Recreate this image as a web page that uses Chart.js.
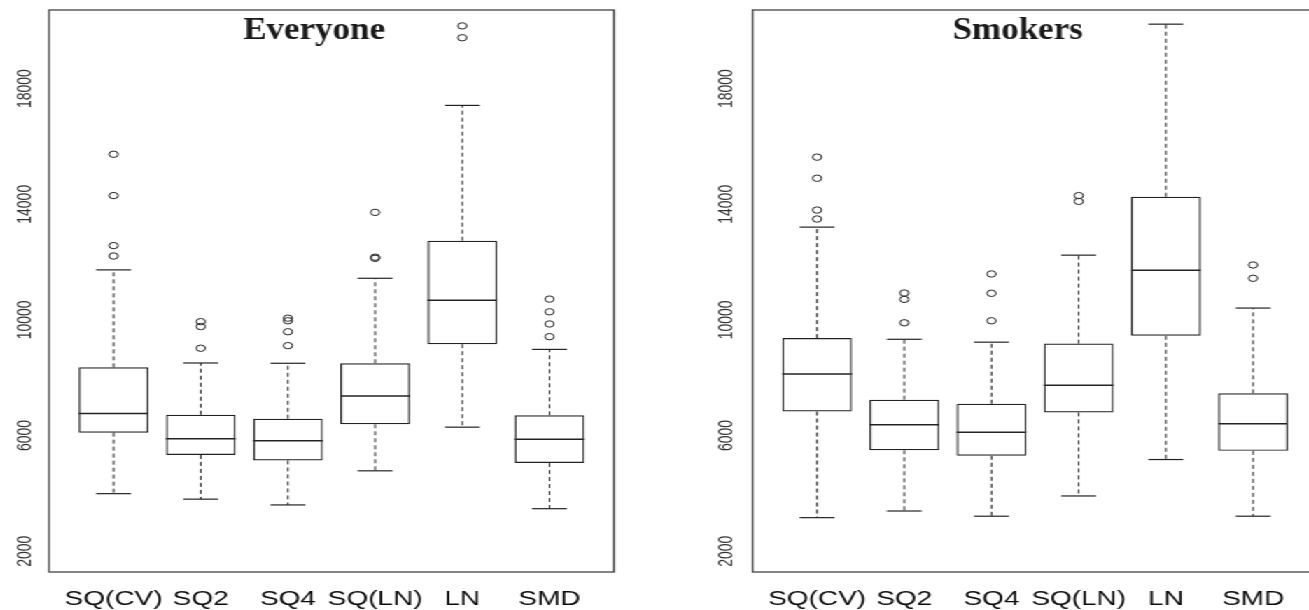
<!DOCTYPE html>
<html>
<head>
<meta charset="utf-8">
<script src="https://cdn.jsdelivr.net/npm/chart.js@4.4.0/dist/chart.umd.min.js"></script>
<style>
  html, body { margin: 0; padding: 0; background: #fff; overflow: hidden; width: 1309px; height: 610px; }
  /* the source figure is stretched sideways, so draw narrow and widen with CSS */
  #stretch { position: absolute; left: 0; top: 0; width: 960px; height: 610px; transform: scaleX(1.4); transform-origin: 0 0; }
  .panel { position: absolute; top: 0; height: 610px; }
</style>
</head>
<body>
<div id="stretch">
  <div class="panel" style="left:0;width:468px"><canvas id="everyone" width="468" height="610"></canvas></div>
  <div class="panel" style="left:468px;width:480px"><canvas id="smokers" width="480" height="610"></canvas></div>
</div>
<script>
const categories = ['SQ(CV)', 'SQ2', 'SQ4', 'SQ(LN)', 'LN', 'SMD'];
const yTicks = [2000, 6000, 10000, 14000, 18000];

// Everyone
const everyoneLow  = [3990, 3800, 3600, 4780, 6290, 3470];
const everyoneQ1   = [6100, 5330, 5140, 6390, 9160, 5050];
const everyoneMed  = [6760, 5890, 5820, 7370, 10680, 5870];
const everyoneQ3   = [8360, 6720, 6580, 8500, 12740, 6700];
const everyoneHigh = [11730, 8510, 8500, 11440, 17420, 8980];
const everyoneOut  = [
  [15730, 14300, 12570, 12210],
  [9940, 9770, 9020],
  [10060, 9970, 9590, 9110],
  [13720, 12170, 12130],
  [20170, 19760],
  [10720, 10280, 9860, 9420]
];

// Smokers
const smokersLow  = [3160, 3390, 3210, 3910, 5170, 3210];
const smokersQ1   = [6830, 5490, 5300, 6800, 9450, 5470];
const smokersMed  = [8130, 6370, 6110, 7740, 11720, 6410];
const smokersQ3   = [9370, 7240, 7100, 9180, 14260, 7460];
const smokersHigh = [13210, 9330, 9230, 12240, 20230, 10410];
const smokersOut  = [
  [15630, 14900, 13800, 13490],
  [10930, 10710, 9900],
  [11590, 10920, 9970],
  [14300, 14100],
  [],
  [11900, 11440]
];

const INK = '#222';

function seg(ctx, x1, y1, x2, y2) {
  ctx.beginPath();
  ctx.moveTo(x1, y1);
  ctx.lineTo(x2, y2);
  ctx.stroke();
}

// whiskers, caps, medians, frame, title and y labels, all placed through the chart scales
function boxParts(st) {
  return {
    id: 'boxParts',
    beforeDatasetsDraw(chart) {
      const { ctx, scales: { x, y } } = chart;
      ctx.save();
      ctx.strokeStyle = INK;
      ctx.lineWidth = 1;
      ctx.setLineDash([4, 3]);
      st.low.forEach((lo, i) => {
        const px = x.getPixelForValue(i + 1);
        seg(ctx, px, y.getPixelForValue(st.q1[i]), px, y.getPixelForValue(lo));
        seg(ctx, px, y.getPixelForValue(st.q3[i]), px, y.getPixelForValue(st.high[i]));
      });
      ctx.restore();
    },
    afterDatasetsDraw(chart) {
      const { ctx, chartArea: a, scales: { x, y } } = chart;
      ctx.save();
      ctx.strokeStyle = INK;
      ctx.lineWidth = 1.2;
      st.low.forEach((lo, i) => {
        const c = i + 1;
        seg(ctx, x.getPixelForValue(c - 0.2), y.getPixelForValue(lo), x.getPixelForValue(c + 0.2), y.getPixelForValue(lo));
        seg(ctx, x.getPixelForValue(c - 0.2), y.getPixelForValue(st.high[i]), x.getPixelForValue(c + 0.2), y.getPixelForValue(st.high[i]));
      });
      ctx.lineWidth = 1.5;
      st.med.forEach((m, i) => {
        seg(ctx, x.getPixelForValue(i + 0.6), y.getPixelForValue(m), x.getPixelForValue(i + 1.4), y.getPixelForValue(m));
      });

      // plot frame
      ctx.strokeStyle = '#444';
      ctx.lineWidth = 1.3;
      ctx.strokeRect(a.left, a.top, a.right - a.left, a.bottom - a.top);

      // title inside the frame, a bit taller than the plain font
      ctx.fillStyle = '#1a1a1a';
      ctx.font = 'bold 25px "Liberation Serif", "Times New Roman", serif';
      ctx.textAlign = 'center';
      ctx.textBaseline = 'middle';
      ctx.save();
      ctx.translate(x.getPixelForValue(3.3), y.getPixelForValue(20000));
      ctx.scale(1, 1.3);
      ctx.fillText(st.title, 0, 0);
      ctx.restore();

      // rotated y tick labels
      ctx.font = '14px "Liberation Sans", Arial, sans-serif';
      ctx.fillStyle = '#333';
      yTicks.forEach(v => {
        ctx.save();
        ctx.translate(a.left - st.labelGap, y.getPixelForValue(v));
        ctx.rotate(-Math.PI / 2);
        ctx.fillText(String(v), 0, 0);
        ctx.restore();
      });
      ctx.restore();
    }
  };
}

function makeChart(id, st, padLeft, padRight) {
  const boxes = categories.map((c, i) => ({ x: i + 1, y: [st.q1[i], st.q3[i]] }));
  const outliers = [];
  st.out.forEach((list, i) => list.forEach(v => outliers.push({ x: i + 1, y: v })));

  return new Chart(document.getElementById(id), {
    type: 'bar',
    data: {
      datasets: [{
        type: 'bar',
        data: boxes,
        backgroundColor: 'rgba(255,255,255,0)',
        borderColor: INK,
        borderWidth: 1.2,
        borderSkipped: false,
        barPercentage: 0.8,
        categoryPercentage: 1
      }, {
        type: 'scatter',
        data: outliers,
        pointStyle: 'circle',
        pointRadius: 3.2,
        pointBorderWidth: 1,
        pointBackgroundColor: 'rgba(0,0,0,0)',
        pointBorderColor: INK
      }]
    },
    options: {
      responsive: false,
      animation: false,
      devicePixelRatio: 1,
      layout: { padding: { left: padLeft, right: padRight, top: 10, bottom: 0 } },
      plugins: { legend: { display: false }, tooltip: { enabled: false } },
      scales: {
        x: {
          type: 'linear',
          min: 0.26,
          max: 6.74,
          offset: false,
          grid: { display: false, drawTicks: false },
          border: { display: false },
          afterBuildTicks: s => { s.ticks = categories.map((c, i) => ({ value: i + 1 })); },
          afterFit: s => { s.height = 38; },
          ticks: {
            autoSkip: false,
            minRotation: 0,
            maxRotation: 0,
            padding: 15,
            color: '#0d0d0d',
            font: { family: '"Liberation Sans", Arial, sans-serif', size: 20 },
            callback: v => categories[v - 1]
          }
        },
        y: { type: 'linear', min: 1280, max: 20720, display: false }
      }
    },
    plugins: [boxParts(st)]
  });
}

makeChart('everyone', {
  title: 'Everyone', labelGap: 16.6,
  low: everyoneLow, q1: everyoneQ1, med: everyoneMed, q3: everyoneQ3, high: everyoneHigh, out: everyoneOut
}, 35, 29.4);

makeChart('smokers', {
  title: 'Smokers', labelGap: 18,
  low: smokersLow, q1: smokersQ1, med: smokersMed, q3: smokersQ3, high: smokersHigh, out: smokersOut
}, 69.6, 6.8);
</script>
</body>
</html>
